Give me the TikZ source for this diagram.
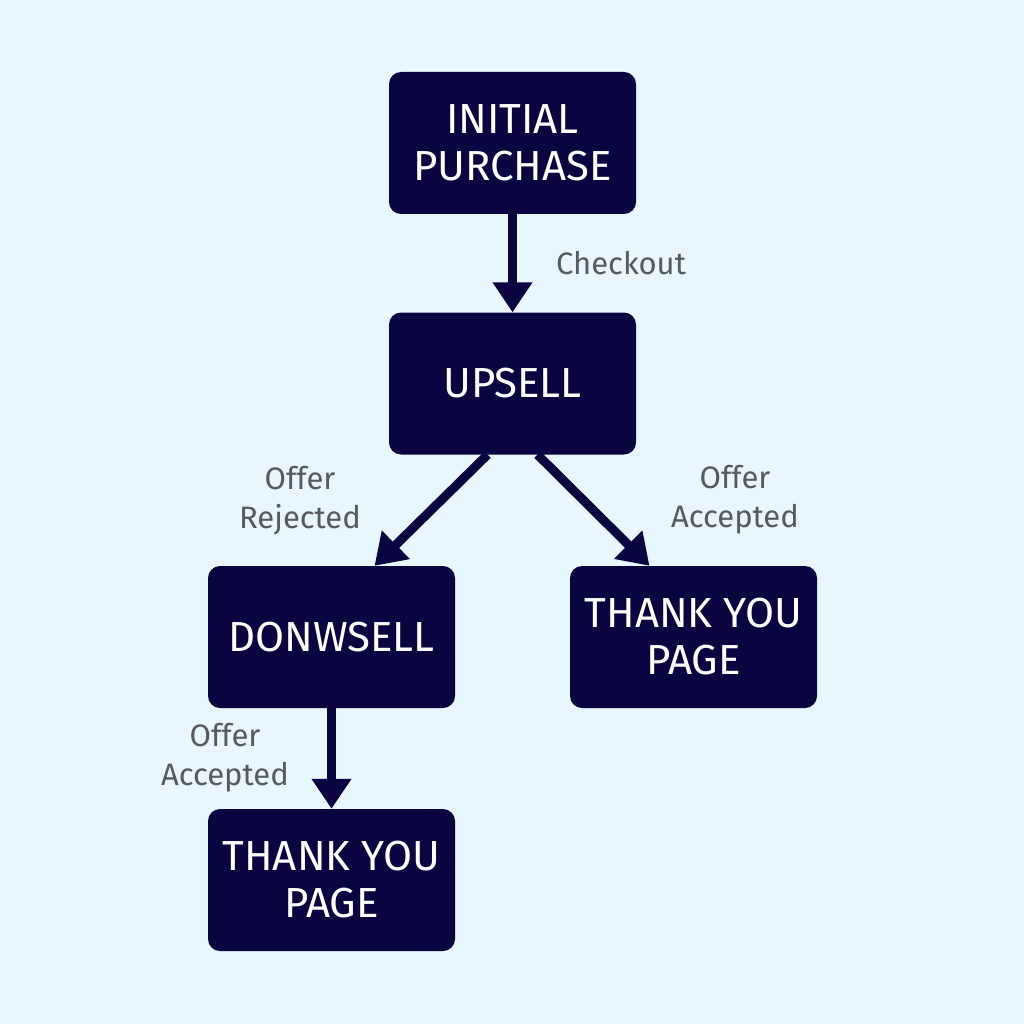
\documentclass[tikz,border=0pt]{standalone}
\usepackage{fontspec}
\setmainfont{Fira Sans}
\usetikzlibrary{arrows.meta,calc}
\definecolor{bgc}{HTML}{E8F6FD}
\definecolor{navy}{HTML}{0A0540}
\definecolor{lbl}{HTML}{555B5E}
\tikzset{
  box/.style={fill=navy, rounded corners=12pt, minimum width=247pt, minimum height=142pt,
    text=white, align=center, inner sep=0pt, font=\fontsize{42}{47}\selectfont},
  conn/.style={draw=navy, line width=9pt, -{Triangle[length=30pt,width=38pt]}},
  lab/.style={text=lbl, align=center, font=\fontsize{31}{39}\selectfont, inner sep=0pt}
}
\begin{document}
\begin{tikzpicture}[x=1pt,y=-1pt]
\fill[bgc] (0,0) rectangle (1024,1024);
\useasboundingbox (0,0) rectangle (1024,1024);
\node[box] (ip) at (512.5,143) {INITIAL\\PURCHASE};
\node[box] (up) at (512.5,383.5) {UPSELL};
\node[box] (dn) at (331.5,637) {DONWSELL};
\node[box] (ty1) at (693.5,637) {THANK YOU\\PAGE};
\node[box] (ty2) at (331.5,880) {THANK YOU\\PAGE};
\coordinate (ul) at ($(up.south)+(-25,0)$);
\coordinate (ur) at ($(up.south)+(25,0)$);
\coordinate (dl) at ($(dn.north)+(43,0)$);
\coordinate (tr) at ($(ty1.north)+(-44,0)$);
\draw[conn] (ip.south) -- (up.north);
\draw[conn] (ul) -- (dl);
\draw[conn] (ur) -- (tr);
\draw[conn] (dn.south) -- (ty2.north);
\node[lab] (l1) at (621,263) {Checkout};
\node[lab] (l2) at (300,501) {Offer\\Rejected};
\node[lab] (l3) at (735,500) {Offer\\Accepted};
\node[lab] (l4) at (225,758) {Offer\\Accepted};
\end{tikzpicture}
\end{document}
